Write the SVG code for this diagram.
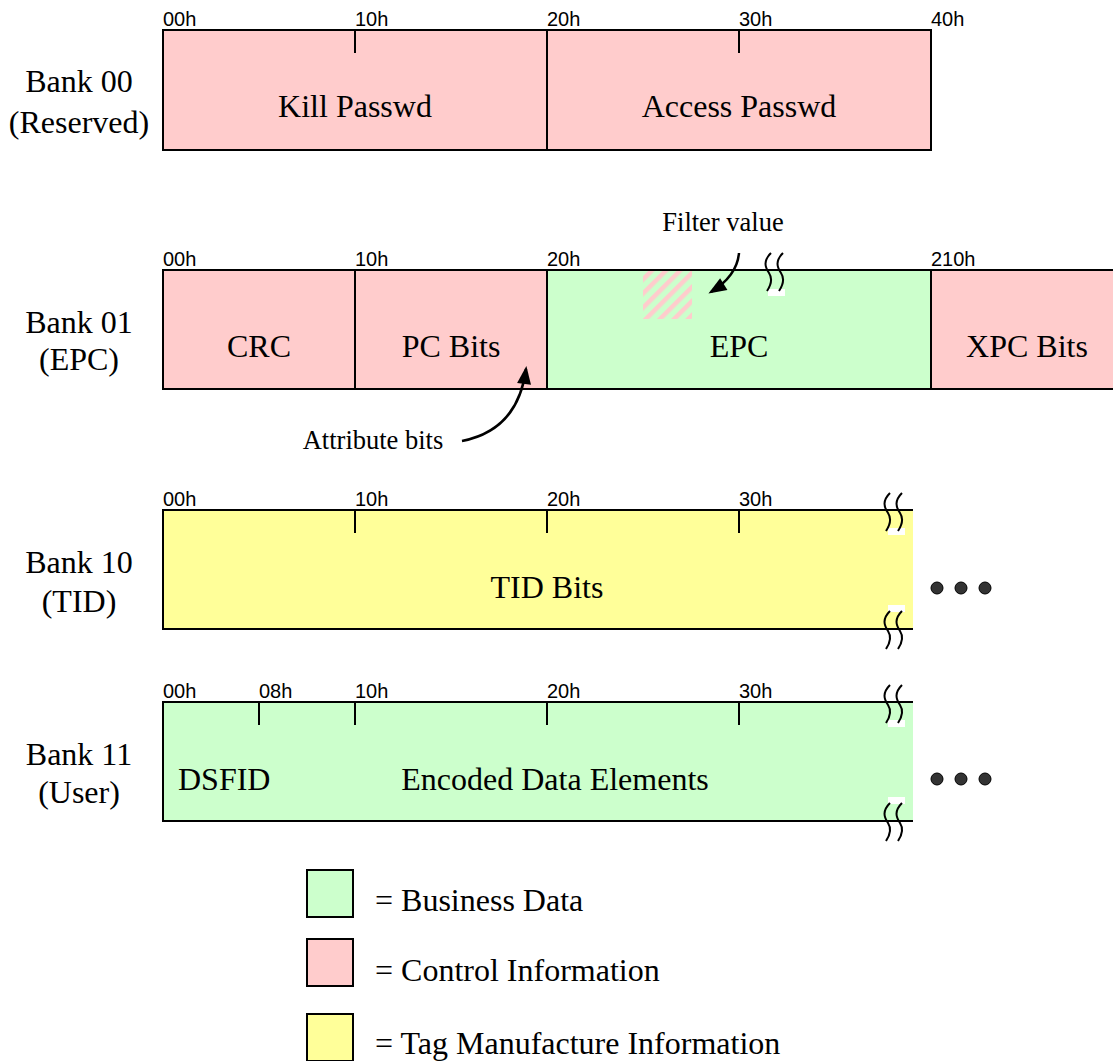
<svg xmlns="http://www.w3.org/2000/svg" width="1113" height="1061" viewBox="0 0 1113 1061">
<style>
.box{stroke:#000;stroke-width:2}
.pink{fill:#ffcccc}
.green{fill:#ccffcc}
.yellow{fill:#ffff99}
.tick{stroke:#000;stroke-width:2;fill:none}
.addr{font-family:"Liberation Sans",Arial,sans-serif;font-size:20px;fill:#000}
.big{font-family:"Liberation Serif","Times New Roman",serif;font-size:32px;fill:#000}
.mid{font-family:"Liberation Serif","Times New Roman",serif;font-size:26.5px;fill:#000}
.brk{stroke:#000;stroke-width:2;fill:none}
.dot{fill:#333;stroke:#000;stroke-width:1}
.arr{stroke:#000;stroke-width:2.5;fill:none}
</style>
<defs>
<marker id="ah" viewBox="0 0 18 14" refX="15" refY="7" markerWidth="18" markerHeight="14" orient="auto" markerUnits="userSpaceOnUse" style="overflow:visible">
<path d="M0,0 L18,7 L0,14 z" fill="#000"/>
</marker>
<pattern id="hatch" width="10" height="10" patternUnits="userSpaceOnUse" patternTransform="rotate(45)">
<rect width="10" height="10" fill="#ccffcc"/>
<rect width="4.5" height="10" fill="#ffcccc"/>
</pattern>
<g id="brkmark">
<path class="brk" d="M4,0 C-4,8 -2,14 2,20 C6,26 4,32 0,38"/>
<path class="brk" d="M16,0 C8,8 10,14 14,20 C18,26 16,32 12,38"/>
</g>
</defs>

<g id="bank00">
<text class="big" x="79" y="92" text-anchor="middle">Bank 00</text>
<text class="big" x="79" y="133" text-anchor="middle">(Reserved)</text>
<rect class="box pink" x="163" y="30" width="768" height="120"/>
<line class="tick" x1="547" y1="30" x2="547" y2="150"/>
<line class="tick" x1="355" y1="30" x2="355" y2="53"/>
<line class="tick" x1="739" y1="30" x2="739" y2="53"/>
<text class="addr" x="163" y="26">00h</text>
<text class="addr" x="355" y="26">10h</text>
<text class="addr" x="547" y="26">20h</text>
<text class="addr" x="739" y="26">30h</text>
<text class="addr" x="931" y="26">40h</text>
<text class="big" x="355" y="117" text-anchor="middle">Kill Passwd</text>
<text class="big" x="739" y="117" text-anchor="middle">Access Passwd</text>
</g>

<g id="bank01">
<text class="big" x="79" y="333" text-anchor="middle">Bank 01</text>
<text class="big" x="79" y="370" text-anchor="middle">(EPC)</text>
<rect class="box pink" x="163" y="270" width="192" height="119"/>
<rect class="box pink" x="355" y="270" width="192" height="119"/>
<rect class="box green" x="547" y="270" width="384" height="119"/>
<rect class="box pink" x="931" y="270" width="200" height="119"/>
<rect x="643" y="271" width="49" height="48" fill="url(#hatch)"/>
<text class="addr" x="163" y="266">00h</text>
<text class="addr" x="355" y="266">10h</text>
<text class="addr" x="547" y="266">20h</text>
<text class="addr" x="931" y="266">210h</text>
<text class="big" x="259" y="357" text-anchor="middle">CRC</text>
<text class="big" x="451" y="357" text-anchor="middle">PC Bits</text>
<text class="big" x="739" y="357" text-anchor="middle">EPC</text>
<text class="big" x="1027" y="357" text-anchor="middle">XPC Bits</text>
<rect x="768" y="271" width="17" height="25" fill="#ccffcc"/>
<rect x="768" y="289" width="17" height="7" fill="#fff"/>
<use href="#brkmark" x="767" y="253"/>
</g>

<g id="filter-label">
<text class="mid" x="723" y="231" text-anchor="middle">Filter value</text>
</g>
<g id="attr-label">
<text class="mid" x="373" y="449" text-anchor="middle">Attribute bits</text>
</g>

<g id="bank10">
<text class="big" x="79" y="573" text-anchor="middle">Bank 10</text>
<text class="big" x="79" y="612" text-anchor="middle">(TID)</text>
<rect class="yellow" x="163" y="510" width="750" height="119"/>
<path class="tick" d="M913,510 H163 V629 H913"/>
<line class="tick" x1="355" y1="510" x2="355" y2="533"/>
<line class="tick" x1="547" y1="510" x2="547" y2="533"/>
<line class="tick" x1="739" y1="510" x2="739" y2="533"/>
<text class="addr" x="163" y="506">00h</text>
<text class="addr" x="355" y="506">10h</text>
<text class="addr" x="547" y="506">20h</text>
<text class="addr" x="739" y="506">30h</text>
<text class="big" x="547" y="598" text-anchor="middle">TID Bits</text>
<rect x="888" y="528" width="17" height="7" fill="#fff"/>
<use href="#brkmark" x="886" y="493"/>
<rect x="888" y="605" width="17" height="7" fill="#fff"/>
<use href="#brkmark" x="886" y="611"/>
<circle class="dot" cx="937" cy="588" r="6"/>
<circle class="dot" cx="961" cy="588" r="6"/>
<circle class="dot" cx="985" cy="588" r="6"/>
</g>

<g id="bank11">
<text class="big" x="79" y="765" text-anchor="middle">Bank 11</text>
<text class="big" x="79" y="803" text-anchor="middle">(User)</text>
<rect class="green" x="163" y="702" width="750" height="119"/>
<path class="tick" d="M913,702 H163 V821 H913"/>
<line class="tick" x1="259" y1="702" x2="259" y2="725"/>
<line class="tick" x1="355" y1="702" x2="355" y2="725"/>
<line class="tick" x1="547" y1="702" x2="547" y2="725"/>
<line class="tick" x1="739" y1="702" x2="739" y2="725"/>
<text class="addr" x="163" y="698">00h</text>
<text class="addr" x="259" y="698">08h</text>
<text class="addr" x="355" y="698">10h</text>
<text class="addr" x="547" y="698">20h</text>
<text class="addr" x="739" y="698">30h</text>
<text class="big" x="178" y="790">DSFID</text>
<text class="big" x="555" y="790" text-anchor="middle">Encoded Data Elements</text>
<rect x="888" y="720" width="17" height="7" fill="#fff"/>
<use href="#brkmark" x="886" y="685"/>
<rect x="888" y="797" width="17" height="7" fill="#fff"/>
<use href="#brkmark" x="886" y="803"/>
<circle class="dot" cx="937" cy="779" r="6"/>
<circle class="dot" cx="961" cy="779" r="6"/>
<circle class="dot" cx="985" cy="779" r="6"/>
</g>

<g id="connectors">
<path class="arr" d="M739,253 Q737,276 711,292" marker-end="url(#ah)"/>
<path class="arr" d="M462,441 Q518,430 526,369" marker-end="url(#ah)"/>
</g>

<g id="legend">
<rect class="box green" x="307" y="870" width="46" height="47"/>
<text class="big" x="375" y="911">= Business Data</text>
<rect class="box pink" x="307" y="939" width="46" height="47"/>
<text class="big" x="375" y="981">= Control Information</text>
<rect class="box yellow" x="307" y="1014" width="46" height="47"/>
<text class="big" x="375" y="1054">= Tag Manufacture Information</text>
</g>
</svg>
